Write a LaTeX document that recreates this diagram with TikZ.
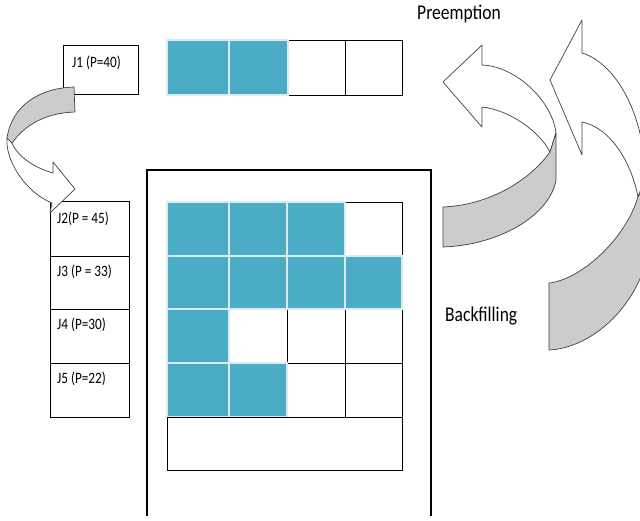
\documentclass[tikz,border=0pt]{standalone}
\usepackage{graphicx}
\usepackage{fontspec}
\setmainfont{Carlito}
\newcommand{\tallText}[1]{\scalebox{1}[1.2]{#1}}
\definecolor{teal1}{RGB}{75,172,198}
\definecolor{cellrim}{RGB}{218,236,242}
\definecolor{band}{RGB}{204,204,204}
\begin{document}
\begin{tikzpicture}[x=1pt,y=-1pt,
  jbox/.style={draw=black, line width=0.8pt, fill=white, inner sep=0},
  lab/.style={font=\fontsize{13.2}{15}\selectfont, inner sep=0, anchor=west},
  big/.style={font=\fontsize{17.5}{20}\selectfont, inner sep=0, anchor=west},
  full/.style={fill=teal1, draw=cellrim, line width=2.2pt},
  empty/.style={draw=black, line width=0.8pt, fill=white},
  face/.style={draw=black!75, line width=0.7pt, fill=white, line join=round},
  back/.style={face, fill=band}]
\useasboundingbox (0,0) rectangle (640,520);
\clip (0,0) rectangle (640,520);
\fill[white] (0,0) rectangle (640,520);

% job boxes
\node[jbox, minimum width=75pt, minimum height=49pt] (j1) at (100.5,69.5) {};
\node[jbox, minimum width=79pt, minimum height=55pt] (j2) at (89.5,228.5) {};
\node[jbox, minimum width=79pt, minimum height=53pt] (j3) at (89.5,282.5) {};
\node[jbox, minimum width=79pt, minimum height=54pt] (j4) at (89.5,336) {};
\node[jbox, minimum width=79pt, minimum height=54pt] (j5) at (89.5,390) {};
\node[lab] (j1t) at (72,63) {\tallText{J1 (P=40)}};
\node[lab] (j2t) at (57,219) {\tallText{J2(P = 45)}};
\node[lab] (j3t) at (57,272) {\tallText{J3 (P = 33)}};
\node[lab] (j4t) at (57,325) {\tallText{J4 (P=30)}};
\node[lab] (j5t) at (57,379) {\tallText{J5 (P=22)}};

% top row
\foreach \xa/\xb in {167/229,229/288,288/345,345/402}
  \draw[empty] (\xa,40) rectangle (\xb,95);
\foreach \xa/\xb in {167/229,229/288}
  \draw[full] (\xa,40) rectangle (\xb,95);

% big frame
\draw[line width=2.8pt] (147,516) -- (147,170) -- (431,170) -- (431,516);

% grid
\foreach \xa/\xb in {167/229,229/287,287/345,345/402}
  \foreach \ya/\yb in {202/256,256/309,309/363,363/417}
    \draw[empty] (\xa,\ya) rectangle (\xb,\yb);
\foreach \xa/\xb/\ya/\yb in {167/229/202/256,229/287/202/256,287/345/202/256,
    167/229/256/309,229/287/256/309,287/345/256/309,345/402/256/309,
    167/229/309/363,167/229/363/417,229/287/363/417}
  \draw[full] (\xa,\ya) rectangle (\xb,\yb);
\draw[empty] (167,417) rectangle (402,470);

% labels
\node[big] (pre) at (417,14) {\tallText{Preemption}};
\node[big] (bf) at (445,316) {\tallText{Backfilling}};

% left curved arrow J1 -> J2
\draw[face] (7,138) .. controls (5,160) and (25,192) .. (52,203) -- (50,213) -- (75,189)
  -- (53,162) -- (53,173) .. controls (35,168) and (18,157) .. (12,143) -- cycle;
\draw[back] (74,87) .. controls (40,88) and (12,105) .. (7,138) -- (12,143)
  .. controls (25,125) and (45,113) .. (75,112) -- cycle;

% right arrow A (Preemption)
\draw[face] (482,65) .. controls (515,66) and (552,100) .. (556,133) -- (550,152)
  .. controls (540,132) and (510,110) .. (482,107) -- (482,127) -- (443,82) -- (482,45) -- cycle;
\draw[back] (550,152) .. controls (530,180) and (490,205) .. (443,207) -- (443,247)
  .. controls (500,245) and (550,215) .. (556,180) -- (556,133) -- cycle;

% right arrow B (Backfilling)
\draw[face] (582,53) .. controls (612,62) and (642,105) .. (646,175) -- (638,197)
  .. controls (632,165) and (612,128) .. (582,122) -- (582,155) -- (550,80) -- (582,20) -- cycle;
\draw[back] (638,197) .. controls (625,240) and (580,280) .. (549,283) -- (549,350)
  .. controls (590,348) and (635,310) .. (648,255) -- (648,180) -- cycle;
\end{tikzpicture}
\end{document}
